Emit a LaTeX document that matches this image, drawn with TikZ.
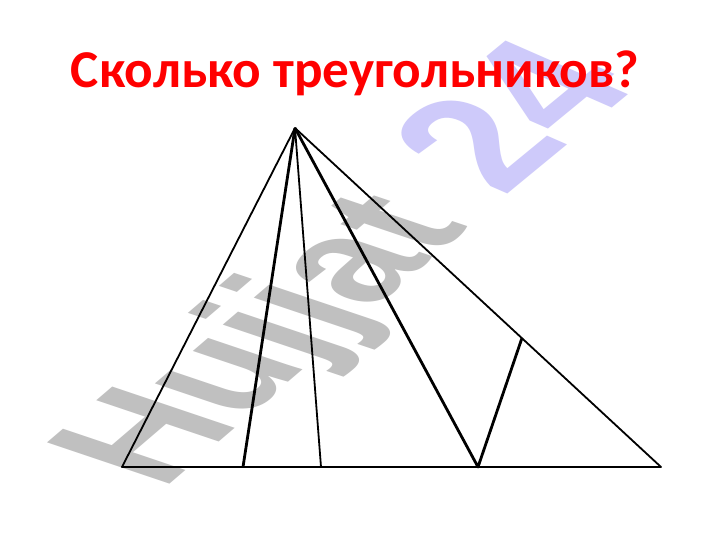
\documentclass[tikz,border=0pt]{standalone}
\usepackage{fontspec}
\usetikzlibrary{calc}
\newfontfamily\wmfont{Liberation Sans}
\newfontfamily\titlefont{Carlito}
\definecolor{wmgray}{RGB}{192,192,192}
\definecolor{wmlav}{RGB}{206,202,250}
\definecolor{titlered}{RGB}{255,0,0}
\begin{document}
\begin{tikzpicture}[x=1pt,y=-1pt,
  thinline/.style={line width=1.8pt,line join=round},
  thickline/.style={line width=2.8pt,line join=round},
  wm/.style={inner sep=0pt,outer sep=0pt,anchor=base west,transform shape,
    font=\wmfont\bfseries\fontsize{100}{100}\selectfont},
  titlestyle/.style={inner sep=0pt,anchor=base,text=titlered,
    font=\titlefont\bfseries\fontsize{53.2}{60}\selectfont}]
\useasboundingbox (0,0) rectangle (720,540);
\fill[white] (0,0) rectangle (720,540);
% watermark
\begin{scope}[shift={(162,490)}]
  \node[wm,text=wmgray,cm={1.11,0.95,-1.78,0.60,(0,0)}] (wmword) at (0,0) {Hujjat};
\end{scope}
\begin{scope}[shift={(503,198)}]
  \node[wm,text=wmlav,cm={1.24,1.02,-1.78,0.78,(0,0)}] (wmnum) at (0,0) {24};
\end{scope}
% triangle
\coordinate (A) at (295,128);
\coordinate (B) at (122,467);
\coordinate (C) at (661,467);
\coordinate (D) at (243,467);
\coordinate (E) at (321,467);
\coordinate (F) at (478,467);
\coordinate (G) at ($(A)!0.62!(C)$);
\draw[thinline] (B) -- (A) -- (C) -- cycle;
\draw[thinline] (A) -- (E);
\draw[thickline] (A) -- (D);
\draw[thickline] (A) -- (F) -- (G);
% title
\node[titlestyle] (title) at (355,88) {Сколько треугольников?};
\end{tikzpicture}
\end{document}
